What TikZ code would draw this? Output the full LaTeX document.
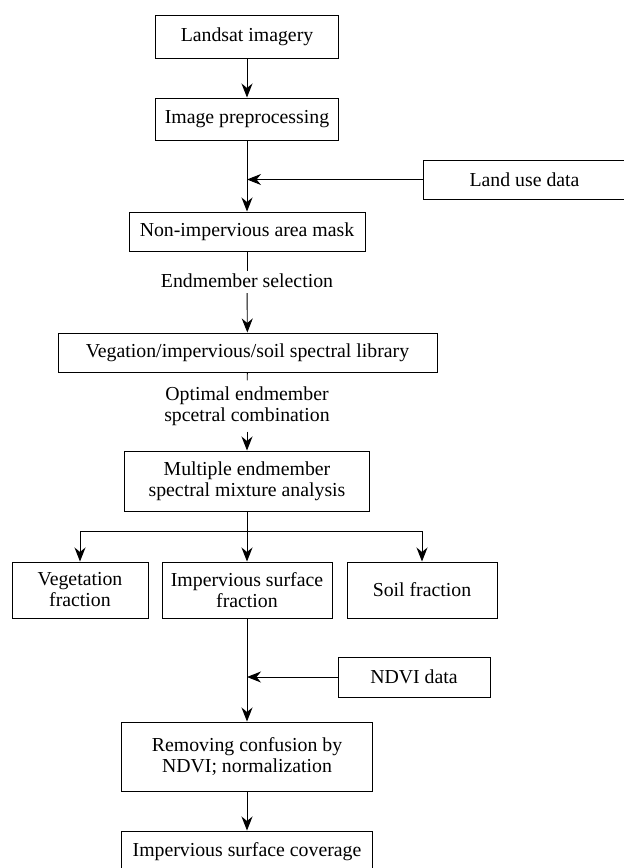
\documentclass[tikz,border=0pt]{standalone}
\usepackage{fontspec}
\setmainfont{Liberation Serif}
\usetikzlibrary{arrows.meta}
\begin{document}
\begin{tikzpicture}[x=1pt,y=-1pt,
  txt/.style={font=\fontsize{19.8}{21}\selectfont},
  box/.style={txt, draw, line width=1pt, inner sep=0pt, align=center},
  lbl/.style={txt, inner xsep=0pt, align=center},
  ln/.style={line width=0.9pt},
  arr/.style={line width=0.9pt, -{Stealth[length=14pt,width=11pt,inset=4.5pt]}}]
\useasboundingbox (0,0) rectangle (624,868);

\node[box, minimum width=183pt, minimum height=43pt] (landsat) at (247,36.5) {Landsat imagery};
\node[box, minimum width=183pt, minimum height=42pt] (prep) at (247,119) {Image preprocessing};
\node[box, minimum width=203pt, minimum height=39pt] (landuse) at (524.5,179.5) {Land use data};
\node[box, minimum width=236pt, minimum height=39pt] (mask) at (247,231.5) {Non-impervious area mask};
\node[lbl, text height=14pt, text depth=4pt, inner ysep=2pt] (endsel) at (247,282) {Endmember selection};
\node[box, minimum width=379pt, minimum height=39pt] (lib) at (247.5,352.5) {Vegation/impervious/soil spectral library};
\node[lbl, inner ysep=6pt] (optimal) at (247,406) {Optimal endmember\\spcetral combination};
\node[box, minimum width=245pt, minimum height=60pt] (mesma) at (247,481) {Multiple endmember\\spectral mixture analysis};
\node[box, minimum width=136pt, minimum height=56pt] (vegf) at (80,590) {Vegetation\\fraction};
\node[box, minimum width=170pt, minimum height=56pt] (impf) at (247,590) {Impervious surface\\fraction};
\node[box, minimum width=150pt, minimum height=56pt] (soilf) at (422,590) {Soil fraction};
\node[box, minimum width=152pt, minimum height=40pt] (ndvi) at (414,677) {NDVI data};
\node[box, minimum width=251pt, minimum height=69pt] (remove) at (247,756.5) {Removing confusion by\\NDVI; normalization};
\node[box, minimum width=251pt, minimum height=42pt] (cover) at (247,852) {Impervious surface coverage};

\draw[arr] (landsat) -- (prep);
\draw[arr] (prep) -- (mask);
\draw[arr] (landuse.west) -- (landuse.west -| prep.south);
\draw[ln] (mask) -- (endsel);
\draw[arr] (endsel) -- (lib);
\draw[ln] (lib) -- (optimal);
\draw[arr] (optimal) -- (mesma);
\draw[arr] (mesma) -- (impf);
\draw[arr] (mesma.south) -- ++(0,20) -| (vegf.north);
\draw[arr] (mesma.south) -- ++(0,20) -| (soilf.north);
\draw[arr] (impf) -- (remove);
\draw[arr] (ndvi.west) -- (ndvi.west -| impf.south);
\draw[arr] (remove) -- (cover);
\end{tikzpicture}
\end{document}
